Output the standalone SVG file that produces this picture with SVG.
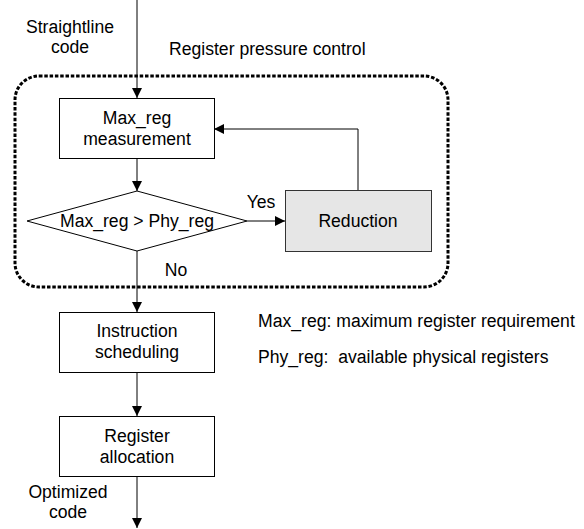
<svg xmlns="http://www.w3.org/2000/svg" width="584" height="529" viewBox="0 0 584 529">
<style>
text{font-family:"Liberation Sans",Arial,sans-serif;font-size:17.6px;fill:#000}
.c{text-anchor:middle}
.box{fill:#fff;stroke:#000;stroke-width:1}
.ln{fill:none;stroke:#000;stroke-width:1}
</style>
<defs>
<marker id="ah" markerWidth="10" markerHeight="10" refX="10" refY="5" orient="auto" markerUnits="userSpaceOnUse">
<path d="M0,0 L10,5 L0,10 Z" fill="#000"/>
</marker>
</defs>
<rect width="584" height="529" fill="#fff"/>
<g id="region">
<rect x="15" y="76" width="433" height="211" rx="24" ry="24" fill="none" stroke="#000" stroke-width="3" stroke-dasharray="3.5 1.8"/>
<text x="169" y="55">Register pressure control</text>
</g>
<g id="connectors">
<line class="ln" x1="137" y1="0" x2="137" y2="98" marker-end="url(#ah)"/>
<line class="ln" x1="137" y1="159" x2="137" y2="191" marker-end="url(#ah)"/>
<line class="ln" x1="247" y1="221" x2="285" y2="221" marker-end="url(#ah)"/>
<polyline class="ln" points="358,190 358,129 214,129" stroke="#555" marker-end="url(#ah)"/>
<line class="ln" x1="137" y1="251" x2="137" y2="312" marker-end="url(#ah)"/>
<line class="ln" x1="137" y1="372" x2="137" y2="416" marker-end="url(#ah)"/>
<line class="ln" x1="137" y1="476" x2="137" y2="528" marker-end="url(#ah)"/>
<text class="c" x="261" y="208">Yes</text>
<text class="c" x="176" y="276">No</text>
</g>
<g id="input">
<text class="c" x="70" y="33">Straightline</text>
<text class="c" x="70" y="53">code</text>
</g>
<g id="measure">
<rect class="box" x="59.5" y="98.5" width="155" height="60"/>
<text class="c" x="137" y="124">Max_reg</text>
<text class="c" x="137" y="145">measurement</text>
</g>
<g id="decision">
<polygon class="box" points="27,221 137,191 247,221 137,251"/>
<text class="c" x="137" y="227">Max_reg &gt; Phy_reg</text>
</g>
<g id="reduction">
<rect x="285.5" y="190.5" width="146" height="61" fill="#e6e6e6" stroke="#333" stroke-width="1"/>
<text class="c" x="358" y="227">Reduction</text>
</g>
<g id="scheduling">
<rect class="box" x="59.5" y="312.5" width="155" height="60"/>
<text class="c" x="137" y="337">Instruction</text>
<text class="c" x="137" y="358">scheduling</text>
</g>
<g id="allocation">
<rect class="box" x="59.5" y="416.5" width="155" height="60"/>
<text class="c" x="137" y="442">Register</text>
<text class="c" x="137" y="463">allocation</text>
</g>
<g id="output">
<text class="c" x="68" y="498">Optimized</text>
<text class="c" x="68" y="518">code</text>
</g>
<g id="legend">
<text x="258" y="327">Max_reg: maximum register requirement</text>
<text x="258" y="363" xml:space="preserve">Phy_reg:  available physical registers</text>
</g>
</svg>
